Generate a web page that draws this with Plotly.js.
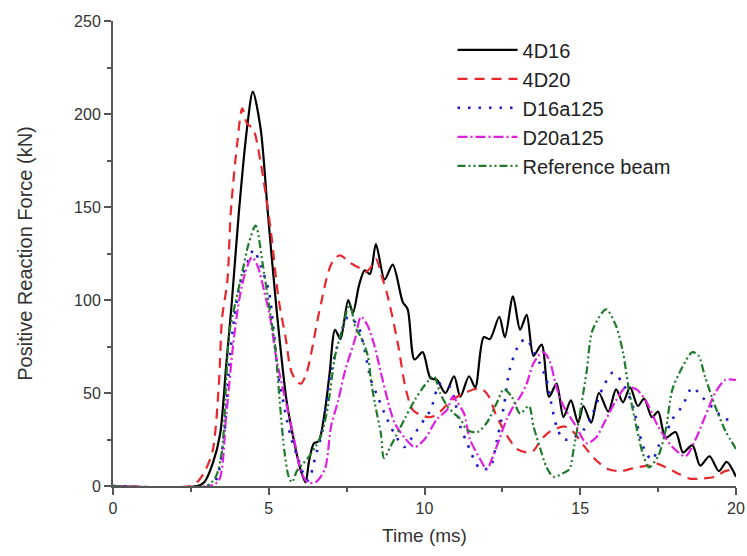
<!DOCTYPE html>
<html>
<head>
<meta charset="utf-8">
<script src="https://cdn.plot.ly/plotly-3.0.1.min.js"></script>
<style>html,body{margin:0;padding:0;background:#fff;}#chart{width:747px;height:556px;}</style>
</head>
<body>
<div id="chart"></div>
<script>
// Time (ms) and Positive Reaction Force (kN)
const t4D16 = [0, 2.7, 2.93, 3.2, 3.44, 3.63, 3.82, 4.04, 4.3, 4.49, 4.74, 4.97, 5.25, 5.57, 5.8, 6.0, 6.18, 6.3, 6.45, 6.6, 6.8, 6.95, 7.13, 7.3, 7.55, 7.7, 7.9, 8.08, 8.25, 8.44, 8.72, 8.98, 9.3, 9.46, 9.68, 9.94, 10.19, 10.4, 10.67, 10.95, 11.15, 11.43, 11.63, 11.9, 12.1, 12.4, 12.58, 12.84, 13.07, 13.28, 13.5, 13.76, 14.0, 14.24, 14.46, 14.7, 14.93, 15.1, 15.35, 15.6, 15.9, 16.15, 16.37, 16.6, 16.85, 17.05, 17.3, 17.5, 17.74, 18.06, 18.3, 18.6, 18.85, 19.15, 19.45, 19.7, 20.0];
const v4D16 = [0, 0, 2, 12, 28, 64, 100, 147, 192, 212, 192, 147, 95, 46, 25, 10, 2, 14, 23, 24, 40, 60, 84, 79, 100, 93, 108, 116, 114, 130, 111, 119, 99, 95, 68, 72, 58, 57, 50, 59, 48, 59, 53, 80, 79, 91, 80, 102, 84, 92, 70, 76, 48, 55, 37, 46, 34, 43, 34, 50, 40, 52, 45, 53, 43, 47, 37, 40, 26, 29, 18, 22, 11, 16, 8, 13, 5];

const t4D20 = [0, 2.5, 2.7, 2.95, 3.2, 3.4, 3.5, 3.67, 3.78, 3.98, 4.15, 4.3, 4.5, 4.74, 5.06, 5.32, 5.54, 5.7, 5.86, 6.03, 6.2, 6.37, 6.55, 6.69, 6.91, 7.1, 7.29, 7.61, 7.93, 8.1, 8.25, 8.44, 8.66, 8.82, 9.14, 9.4, 9.62, 9.9, 10.2, 10.5, 10.8, 11.05, 11.3, 11.6, 11.85, 12.07, 12.3, 12.65, 12.96, 13.3, 13.5, 13.75, 14.0, 14.24, 14.5, 14.78, 15.1, 15.5, 15.9, 16.3, 16.8, 17.2, 17.45, 17.75, 18.1, 18.5, 18.9, 19.33, 19.65, 20.0];
const v4D20 = [0, 0, 2, 8, 19, 55, 90, 110, 147, 183, 203, 195, 192, 174, 138, 100, 80, 63, 57, 55, 60, 72, 88, 99, 115, 122, 124, 120, 117, 115, 117, 122, 111, 102, 77, 52, 41, 38, 37, 40, 45, 48, 50, 52, 52, 48, 38, 27, 20, 18, 19, 25, 29, 31, 32, 29, 22, 14, 9, 8, 10, 11, 12, 10, 7, 4, 4, 5, 8, 9];

const tD16a125 = [0, 3.0, 3.3, 3.57, 3.73, 3.89, 4.1, 4.36, 4.52, 4.75, 5.0, 5.15, 5.3, 5.54, 5.73, 5.96, 6.1, 6.27, 6.5, 6.7, 7.0, 7.32, 7.55, 7.87, 8.08, 8.28, 8.5, 8.72, 9.04, 9.36, 9.6, 10.0, 10.2, 10.5, 10.83, 11.15, 11.37, 11.6, 11.8, 12.1, 12.33, 12.55, 12.74, 13.07, 13.28, 13.5, 13.7, 13.92, 14.05, 14.24, 14.46, 14.78, 15.1, 15.4, 15.73, 16.05, 16.37, 16.69, 16.9, 17.1, 17.32, 17.5, 17.74, 17.96, 18.28, 18.6, 18.9, 19.2, 19.65, 20.0];
const vD16a125 = [0, 0, 3, 28, 64, 90, 110, 122, 127, 118, 105, 85, 60, 39, 25, 14, 7, 3, 16, 28, 61, 82, 91, 86, 73, 57, 48, 39, 28, 21, 26, 36, 41, 55, 53, 32, 23, 14, 9, 10, 25, 43, 63, 77, 79, 72, 66, 57, 46, 32, 25, 26, 30, 39, 53, 61, 55, 43, 28, 18, 14, 21, 28, 36, 43, 53, 48, 43, 36, 36];

const tD20a125 = [0, 3.1, 3.4, 3.63, 3.85, 4.05, 4.25, 4.46, 4.65, 4.85, 5.05, 5.25, 5.54, 5.73, 5.9, 6.05, 6.25, 6.5, 6.8, 7.0, 7.23, 7.45, 7.77, 7.96, 8.18, 8.4, 8.6, 8.82, 9.04, 9.36, 9.68, 10.0, 10.4, 10.73, 10.9, 11.05, 11.27, 11.46, 11.8, 12.0, 12.2, 12.42, 12.64, 12.86, 13.07, 13.28, 13.5, 13.8, 14.0, 14.24, 14.46, 14.87, 15.2, 15.5, 15.83, 16.15, 16.46, 16.8, 17.1, 17.5, 17.96, 18.38, 18.7, 19.0, 19.33, 19.65, 20.0];
const vD20a125 = [0, 0, 3, 37, 75, 100, 115, 123, 118, 105, 90, 68, 46, 32, 18, 7, 2, 2, 9, 32, 46, 62, 79, 91, 86, 75, 61, 46, 34, 26, 21, 25, 36, 41, 48, 45, 39, 25, 14, 9, 16, 26, 36, 43, 48, 55, 66, 72, 68, 53, 43, 32, 23, 26, 36, 46, 53, 52, 46, 32, 21, 16, 25, 37, 50, 57, 57];

const tRef = [0, 3.0, 3.3, 3.5, 3.63, 3.73, 3.95, 4.15, 4.35, 4.58, 4.8, 5.0, 5.22, 5.35, 5.5, 5.64, 5.75, 5.9, 6.1, 6.3, 6.5, 6.7, 6.9, 7.13, 7.32, 7.6, 7.77, 7.96, 8.18, 8.28, 8.4, 8.6, 8.7, 8.9, 9.36, 9.68, 10.0, 10.3, 10.5, 10.73, 10.95, 11.15, 11.37, 11.7, 12.0, 12.33, 12.55, 12.8, 13.07, 13.35, 13.5, 13.7, 13.92, 14.14, 14.46, 14.65, 14.8, 14.97, 15.2, 15.4, 15.83, 16.15, 16.37, 16.56, 16.8, 17.0, 17.2, 17.5, 17.74, 17.96, 18.28, 18.6, 18.8, 19.0, 19.33, 19.65, 20.0];
const vRef = [0, 0, 5, 19, 55, 82, 100, 115, 130, 140, 120, 98, 73, 46, 19, 5, 2, 8, 12, 16, 21, 28, 43, 70, 82, 98, 86, 80, 70, 57, 45, 28, 15, 21, 36, 46, 54, 59, 50, 43, 39, 36, 30, 29, 34, 45, 52, 48, 39, 43, 32, 21, 10, 5, 7, 9, 21, 37, 61, 84, 95, 86, 72, 52, 32, 18, 10, 16, 30, 52, 64, 72, 70, 59, 43, 30, 20];

const seriesNames = ["4D16", "4D20", "D16a125", "D20a125", "Reference beam"];

const FONT = "Liberation Sans, Arial, sans-serif";
const styles = [
  {color: "#000000", dash: "solid", width: 2.2},
  {color: "#e8262b", dash: "10px,7px", width: 2.2},
  {color: "#1c1cc8", dash: "2.5px,8px", width: 2.6},
  {color: "#e020e0", dash: "10px,3px,2px,3px", width: 2.2},
  {color: "#1f7a2a", dash: "8px,3px,2px,3px,2px,3px", width: 2.2}
];
const xs = [t4D16, t4D20, tD16a125, tD20a125, tRef];
const ys = [v4D16, v4D20, vD16a125, vD20a125, vRef];

const data = seriesNames.map((n, i) => ({
  type: "scatter", mode: "lines", name: n,
  x: xs[i], y: ys[i],
  legendgroup: "g" + i,
  line: {color: styles[i].color, dash: styles[i].dash, width: styles[i].width, shape: "spline", smoothing: 0.8}
}));

const axisCommon = {
  showline: true, linecolor: "#555", linewidth: 2,
  ticks: "outside", ticklen: 7, tickwidth: 2, tickcolor: "#555",
  showgrid: false, zeroline: false,
  tickfont: {family: FONT, size: 16, color: "#333"},
  ticklabeloverflow: "allow",
  mirror: false
};

const layout = {
  width: 747, height: 556,
  margin: {l: 113, r: 11, t: 21, b: 70},
  paper_bgcolor: "#fff", plot_bgcolor: "#fff",
  showlegend: true,
  xaxis: Object.assign({}, axisCommon, {
    range: [0, 20], dtick: 5, tick0: 0,
    minor: {dtick: 2.5, ticks: "outside", ticklen: 4, tickwidth: 2, tickcolor: "#555"},
    title: {text: "Time (ms)", font: {family: FONT, size: 19, color: "#333"}, standoff: 12}
  }),
  yaxis: Object.assign({}, axisCommon, {
    range: [0, 250], dtick: 50, tick0: 0,
    minor: {dtick: 25, ticks: "outside", ticklen: 4, tickwidth: 2, tickcolor: "#555"},
    title: {text: "Positive Reaction Force (kN)", font: {family: FONT, size: 20, color: "#333"}, standoff: 36}
  }),
  legend: {
    x: 0.545, y: 0.98, xanchor: "left", yanchor: "top",
    bgcolor: "rgba(0,0,0,0)", borderwidth: 0,
    font: {family: FONT, size: 20, color: "#222"},
    traceorder: "normal", itemwidth: 60
  }
};

Plotly.newPlot("chart", data, layout, {displayModeBar: false, staticPlot: true});
</script>
</body>
</html>
